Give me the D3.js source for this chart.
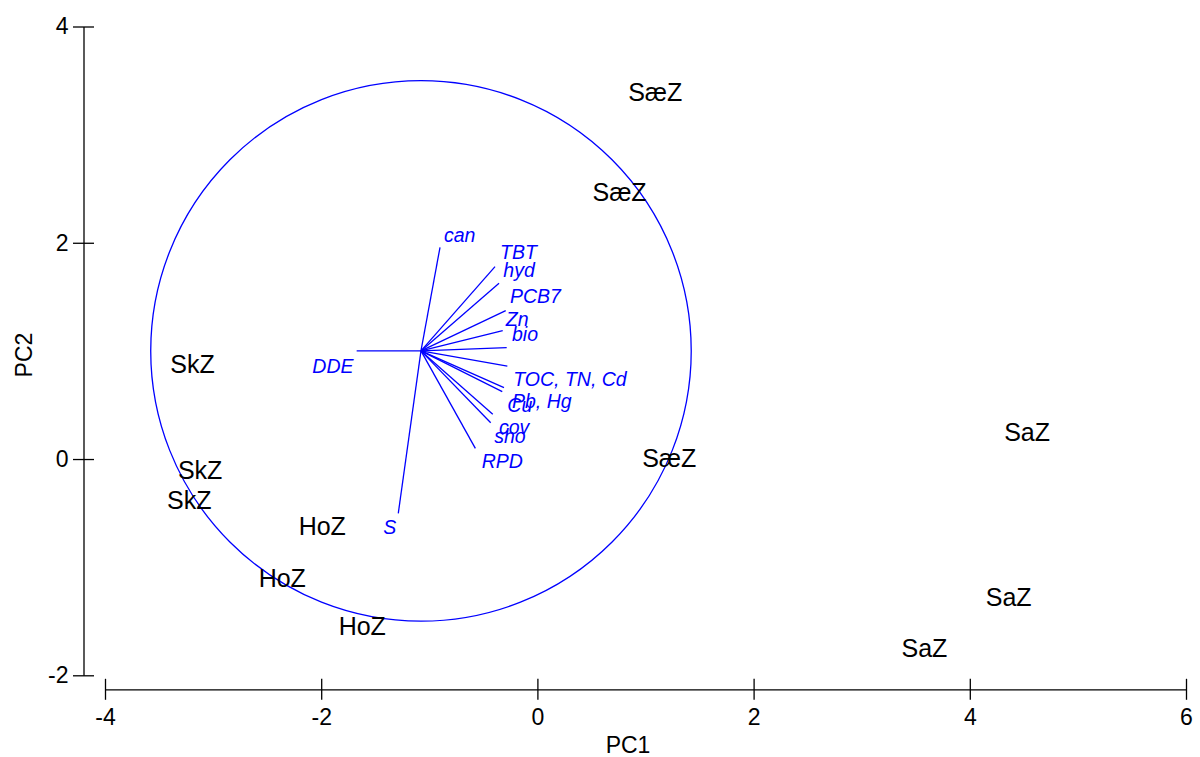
<!DOCTYPE html>
<html>
<head>
<meta charset="utf-8">
<script src="https://cdn.jsdelivr.net/npm/d3@7"></script>
<style>
  html, body { margin: 0; padding: 0; background: #fff; }
  svg { display: block; font-family: "Liberation Sans", Arial, sans-serif; }
</style>
</head>
<body>
<svg id="chart" width="1200" height="757"></svg>
<script>
// ---- Data ----
const xTicks = [-4, -2, 0, 2, 4, 6];
const yTicks = [-2, 0, 2, 4];

// Site scores (PC1, PC2)
const siteNames = ["SæZ", "SæZ", "SæZ", "SaZ", "SaZ", "SaZ", "SkZ", "SkZ", "SkZ", "HoZ", "HoZ", "HoZ"];
const sitePC1 = [1.09, 0.76, 1.22, 4.53, 4.36, 3.58, -3.19, -3.12, -3.22, -1.99, -2.36, -1.62];
const sitePC2 = [3.39, 2.47, 0.01, 0.25, -1.28, -1.75, 0.88, -0.10, -0.38, -0.62, -1.10, -1.54];

// Variable loadings: origin, circle radius, vector end points
const vecOrigin = [-1.077, 1.0];
const circleRadius = 2.5;
const vecNames = ["can", "TBT", "hyd", "PCB7", "Zn", "bio", "TOC, TN, Cd", "Pb, Hg", "Cu", "cov", "sho", "RPD", "DDE", "S"];
const vecPC1 = [-0.901, -0.392, -0.355, -0.293, -0.321, -0.284, -0.278, -0.309, -0.325, -0.413, -0.432, -0.574, -1.672, -1.287];
const vecPC2 = [1.958, 1.779, 1.625, 1.372, 1.187, 1.030, 0.860, 0.660, 0.623, 0.414, 0.336, 0.099, 1.000, -0.502];
// Label anchor points of the variable names
const vecLabelPC1 = [-0.864, -0.346, -0.315, -0.254, -0.293, -0.235, -0.223, -0.235, -0.278, -0.355, -0.399, -0.515, -2.082, -1.426];
const vecLabelPC2 = [2.010, 1.847, 1.686, 1.440, 1.230, 1.094, 0.675, 0.475, 0.438, 0.229, 0.151, -0.086, 0.798, -0.696];

const xTitle = "PC1";
const yTitle = "PC2";

// ---- Layout ----
const svg = d3.select("#chart");
const x = d3.scaleLinear().domain([-4, 6]).range([105, 1186]);
const y = d3.scaleLinear().domain([-2, 4]).range([675.3, 26.5]);
const axisX = 83.5;   // position of detached y axis
const axisY = 689.3;  // position of detached x axis
const blue = "#0000ff";
const fmt = d => String(d); // plain hyphen-minus as in the reference

// ---- Axes ----
const yAxis = d3.axisLeft(y).tickValues(yTicks).tickFormat(fmt).tickSizeOuter(0).tickSizeInner(10.5);
const gy = svg.append("g").attr("transform", `translate(${axisX},0)`).call(yAxis);
gy.selectAll(".tick line").attr("x1", -10.5).attr("x2", 10.5);
gy.selectAll(".tick text").attr("x", -15).attr("font-size", 23).attr("font-family", "Liberation Sans, Arial, sans-serif").attr("fill", "#000");

const xAxis = d3.axisBottom(x).tickValues(xTicks).tickFormat(fmt).tickSizeOuter(0).tickSizeInner(10.5);
const gx = svg.append("g").attr("transform", `translate(0,${axisY})`).call(xAxis);
gx.selectAll(".tick line").attr("y1", -10.5).attr("y2", 10.5);
gx.selectAll(".tick text").attr("y", 19).attr("font-size", 23).attr("font-family", "Liberation Sans, Arial, sans-serif").attr("fill", "#000");

svg.selectAll(".domain, .tick line").attr("stroke", "#000").attr("stroke-width", 1.3);

svg.append("text").attr("x", 628).attr("y", 753)
  .attr("text-anchor", "middle").attr("font-size", 23).text(xTitle);
svg.append("text").attr("transform", "translate(32,355) rotate(-90)")
  .attr("text-anchor", "middle").attr("font-size", 23).text(yTitle);

// ---- Correlation circle ----
svg.append("circle")
  .attr("cx", x(vecOrigin[0])).attr("cy", y(vecOrigin[1]))
  .attr("r", x(vecOrigin[0] + circleRadius) - x(vecOrigin[0]))
  .attr("fill", "none").attr("stroke", blue).attr("stroke-width", 1.3);

// ---- Vectors ----
const vecs = vecNames.map((n, i) => ({ n, x: vecPC1[i], y: vecPC2[i], lx: vecLabelPC1[i], ly: vecLabelPC2[i] }));
svg.append("g").selectAll("line").data(vecs).join("line")
  .attr("x1", x(vecOrigin[0])).attr("y1", y(vecOrigin[1]))
  .attr("x2", d => x(d.x)).attr("y2", d => y(d.y))
  .attr("stroke", blue).attr("stroke-width", 1.3);
svg.append("g").selectAll("text").data(vecs).join("text")
  .attr("x", d => x(d.lx)).attr("y", d => y(d.ly))
  .attr("font-size", 19.5).attr("font-style", "italic").attr("fill", blue)
  .text(d => d.n);

// ---- Sites ----
const sites = siteNames.map((n, i) => ({ n, x: sitePC1[i], y: sitePC2[i] }));
svg.append("g").selectAll("text").data(sites).join("text")
  .attr("x", d => x(d.x)).attr("y", d => y(d.y))
  .attr("dy", "0.36em")
  .attr("text-anchor", "middle").attr("font-size", 25).attr("fill", "#000")
  .text(d => d.n);
</script>
</body>
</html>
